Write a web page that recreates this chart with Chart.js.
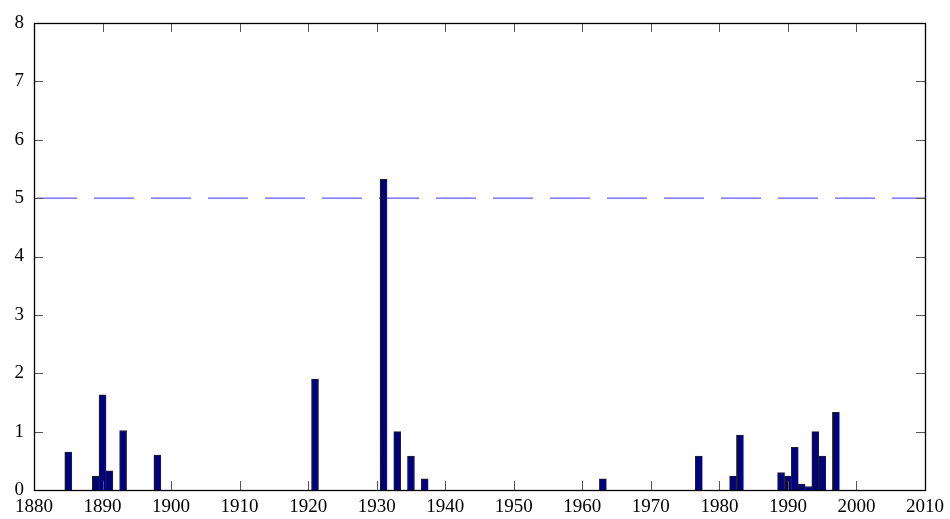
<!DOCTYPE html>
<html lang="en">
<head>
    <meta charset="UTF-8">
    <title>Bar chart</title>
    <script src="https://cdn.jsdelivr.net/npm/chart.js"></script>
    <style>
        body {
            margin: 0;
            padding: 0;
            background-color: #fff;
        }
        #wrap {
            width: 950px;
            height: 519px;
        }
    </style>
</head>
<body>
    <div id="wrap"><canvas id="chart" width="950" height="519"></canvas></div>

    <script>
        // values
        var years = [1885, 1889, 1890, 1891, 1893, 1898, 1921, 1931, 1933, 1935, 1937,
                     1963, 1977, 1982, 1983, 1989, 1990, 1991, 1992, 1993, 1994, 1995, 1997];
        var values = [0.65, 0.24, 1.63, 0.33, 1.02, 0.6, 1.9, 5.32, 1.0, 0.58, 0.19,
                      0.19, 0.58, 0.24, 0.94, 0.3, 0.24, 0.73, 0.1, 0.06, 1.0, 0.58, 1.33];
        var xRange = [1880, 2010];
        var yRange = [0, 8];
        var threshold = 5;

        var barData = years.map(function (y, i) { return { x: y, y: values[i] }; });
        var lineData = [{ x: xRange[0], y: threshold }, { x: xRange[1], y: threshold }];

        var serif = '"Liberation Serif", "Times New Roman", serif';

        // MATLAB-like box with inward ticks on all four sides
        var boxPlugin = {
            id: 'box',
            afterDraw: function (chart) {
                var ctx = chart.ctx;
                var a = chart.chartArea;
                var xs = chart.scales.x, ys = chart.scales.y;
                var len = 9;
                ctx.save();
                ctx.strokeStyle = '#555';
                ctx.lineWidth = 1;
                ctx.beginPath();
                xs.ticks.forEach(function (t) {
                    var px = Math.round(xs.getPixelForValue(t.value)) + 0.5;
                    ctx.moveTo(px, a.bottom); ctx.lineTo(px, a.bottom - len);
                    ctx.moveTo(px, a.top); ctx.lineTo(px, a.top + len);
                });
                ys.ticks.forEach(function (t) {
                    var py = Math.round(ys.getPixelForValue(t.value)) + 0.5;
                    ctx.moveTo(a.left, py); ctx.lineTo(a.left + len, py);
                    ctx.moveTo(a.right, py); ctx.lineTo(a.right - len, py);
                });
                ctx.stroke();
                ctx.strokeStyle = '#000';
                ctx.lineWidth = 1.3;
                ctx.strokeRect(Math.round(a.left) + 0.5, Math.round(a.top) + 0.5,
                    Math.round(a.right - a.left), Math.round(a.bottom - a.top));
                ctx.restore();
            }
        };

        function draw() {
            var ctx = document.getElementById('chart').getContext('2d');
            new Chart(ctx, {
                type: 'bar',
                data: {
                    datasets: [{
                        type: 'bar',
                        data: barData,
                        backgroundColor: '#000080',
                        borderColor: '#222',
                        borderWidth: 1,
                        barThickness: 7,
                        order: 1
                    }, {
                        type: 'line',
                        data: lineData,
                        borderColor: '#3434ff',
                        borderWidth: 1,
                        borderDash: [40, 17],
                        borderDashOffset: -3,
                        pointRadius: 0,
                        fill: false,
                        order: 2
                    }]
                },
                options: {
                    responsive: false,
                    animation: false,
                    layout: { padding: { top: 23, right: 24, left: 0, bottom: 0 } },
                    plugins: {
                        legend: { display: false },
                        tooltip: { enabled: false }
                    },
                    scales: {
                        x: {
                            type: 'linear',
                            min: xRange[0],
                            max: xRange[1],
                            offset: false,
                            grid: { display: false, drawTicks: false },
                            border: { display: false },
                            ticks: {
                                stepSize: 10,
                                maxRotation: 0,
                                autoSkip: false,
                                padding: 6,
                                color: '#000',
                                font: { family: serif, size: 19 },
                                callback: function (v) { return String(v); }
                            },
                            afterFit: function (s) { s.height = 29; }
                        },
                        y: {
                            min: yRange[0],
                            max: yRange[1],
                            grid: { display: false, drawTicks: false },
                            border: { display: false },
                            ticks: {
                                stepSize: 1,
                                padding: 10,
                                color: '#000',
                                font: { family: serif, size: 19 }
                            },
                            afterFit: function (s) { s.width = 34; }
                        }
                    }
                },
                plugins: [boxPlugin]
            });
        }

        // make sure the serif face is ready before the canvas paints text
        if (document.fonts && document.fonts.load) {
            document.fonts.load('19px "Liberation Serif"').then(draw, draw);
        } else {
            draw();
        }
    </script>
</body>
</html>
